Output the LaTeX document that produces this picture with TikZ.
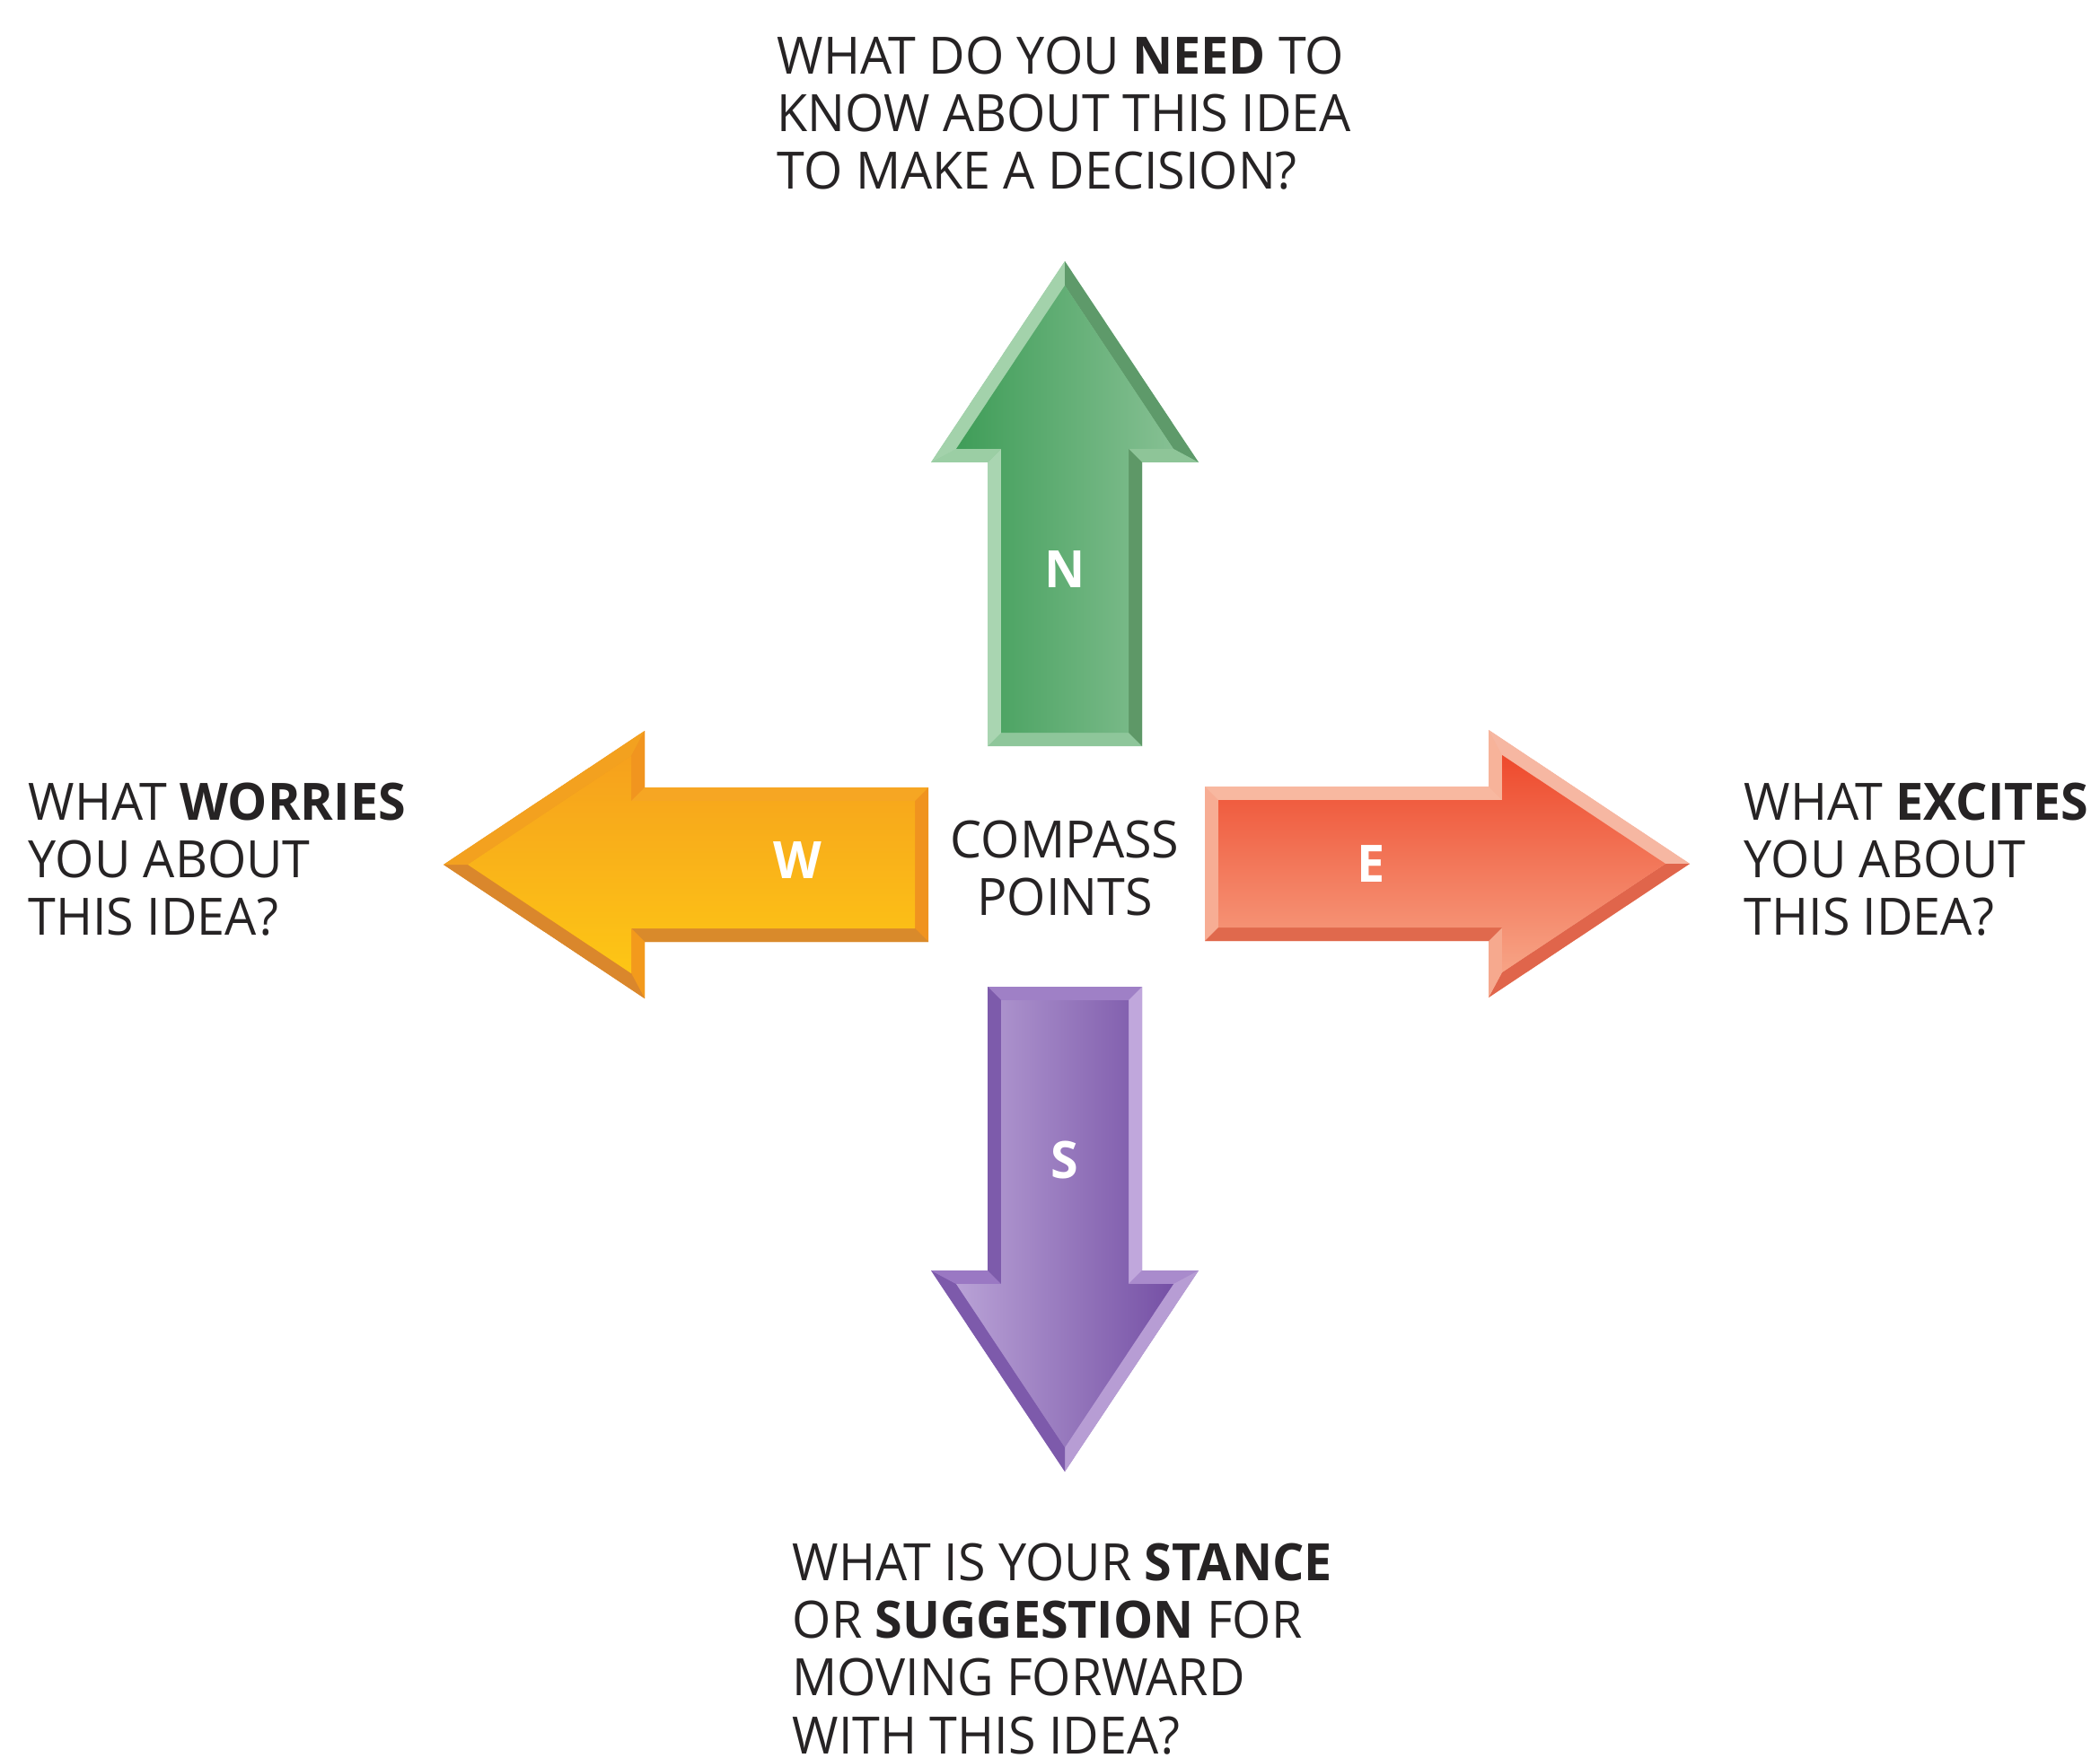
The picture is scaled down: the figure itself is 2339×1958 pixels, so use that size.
\documentclass[tikz,border=0pt]{standalone}
\usepackage{fontspec}
\setmainfont{Open Sans}[FakeStretch=0.97]

\definecolor{ink}{HTML}{262324}
% north, green
\definecolor{northa}{HTML}{A9D5B1}
\definecolor{northb}{HTML}{9BCEA4}
\definecolor{northc}{HTML}{A3D2AB}
\definecolor{northd}{HTML}{5E9A6A}
\definecolor{northe}{HTML}{8EC598}
\definecolor{northf}{HTML}{5E9867}
\definecolor{northg}{HTML}{8EC69A}
\definecolor{northl}{HTML}{3F9D58}
\definecolor{northr}{HTML}{86C093}
% west, orange
\definecolor{westa}{HTML}{D98A2B}
\definecolor{westb}{HTML}{F39A1C}
\definecolor{westc}{HTML}{DA872C}
\definecolor{westd}{HTML}{F3A11F}
\definecolor{weste}{HTML}{F1951F}
\definecolor{westf}{HTML}{F6A623}
\definecolor{westg}{HTML}{F0931F}
\definecolor{westt}{HTML}{F6A11D}
\definecolor{westu}{HTML}{FDC615}
% east, red
\definecolor{easta}{HTML}{F8B8A0}
\definecolor{eastb}{HTML}{F7B39A}
\definecolor{eastc}{HTML}{F6B7A2}
\definecolor{eastd}{HTML}{E0654B}
\definecolor{easte}{HTML}{F6A98E}
\definecolor{eastf}{HTML}{E0694D}
\definecolor{eastg}{HTML}{F7AD94}
\definecolor{eastt}{HTML}{EE4A2D}
\definecolor{eastu}{HTML}{F7A486}
% south, purple
\definecolor{southa}{HTML}{C0A7DC}
\definecolor{southb}{HTML}{A98BCC}
\definecolor{southc}{HTML}{B79DD4}
\definecolor{southd}{HTML}{7D5AAB}
\definecolor{southe}{HTML}{9A78C3}
\definecolor{southf}{HTML}{7D5BAB}
\definecolor{southg}{HTML}{9F80C6}
\definecolor{southl}{HTML}{B9A2D6}
\definecolor{southr}{HTML}{7550A5}

% bevelled block arrow along local x: tail at #1, turned by #2,
% faces coloured #3a..#3g, top face shaded with #4
\newcommand{\bevelarrow}[4]{%
  \begin{scope}[shift={#1}, rotate=#2]
    \fill[#3g] (0,-86) -- (316,-86) -- (316,-149) -- (540,0) -- (316,149) -- (316,86) -- (0,86) -- cycle;
    \fill[#3a] (0,-86) -- (316,-86) -- (331,-71) -- (15,-71) -- cycle;
    \fill[#3b] (316,-86) -- (316,-149) -- (331,-121) -- (331,-71) -- cycle;
    \fill[#3c] (316,-149) -- (540,0) -- (513,0) -- (331,-121) -- cycle;
    \fill[#3d] (540,0) -- (316,149) -- (331,121) -- (513,0) -- cycle;
    \fill[#3e] (316,149) -- (316,86) -- (331,71) -- (331,121) -- cycle;
    \fill[#3f] (316,86) -- (0,86) -- (15,71) -- (331,71) -- cycle;
    \shade[#4] (15,-71) -- (331,-71) -- (331,-121) -- (513,0) -- (331,121) -- (331,71) -- (15,71) -- cycle;
  \end{scope}}

\begin{document}
\begin{tikzpicture}[x=0.01cm, y=-0.01cm]
	\tikzstyle{question}=[anchor=north west, inner sep=0pt, align=left, text=ink, font=\fontsize{16.3}{18.3}\selectfont]
	\tikzstyle{letter}=[inner sep=0pt, text=white, font=\fontsize{16.3}{18.3}\selectfont\bfseries]
	\useasboundingbox (0,0) rectangle (2339,1958);

	\bevelarrow{(1186,831)}{90}{north}{left color=northl, right color=northr}
	\bevelarrow{(1034,963)}{180}{west}{top color=westt, bottom color=westu}
	\bevelarrow{(1342,962)}{0}{east}{top color=eastt, bottom color=eastu}
	\bevelarrow{(1186,1099)}{-90}{south}{left color=southl, right color=southr}

	\node[letter] (n) at (1186,634) {N};
	\node[letter] (w) at (888,958) {W};
	\node[letter] (e) at (1527,962) {E};
	\node[letter] (s) at (1186,1292) {S};

	\node[question, anchor=north, align=center] (compass) at (1186,913) {COMPASS\\POINTS};

	\node[question] (need) at (865,40) {WHAT DO YOU \textbf{NEED} TO\\KNOW ABOUT THIS IDEA\\TO MAKE A DECISION?};
	\node[question] (worries) at (31,871) {WHAT \textbf{WORRIES}\\YOU ABOUT\\THIS IDEA?};
	\node[question] (excites) at (1942,871) {WHAT \textbf{EXCITES}\\YOU ABOUT\\THIS IDEA?};
	\node[question] (stance) at (882,1718) {WHAT IS YOUR \textbf{STANCE}\\OR \textbf{SUGGESTION} FOR\\MOVING FORWARD\\WITH THIS IDEA?};
\end{tikzpicture}
\end{document}
